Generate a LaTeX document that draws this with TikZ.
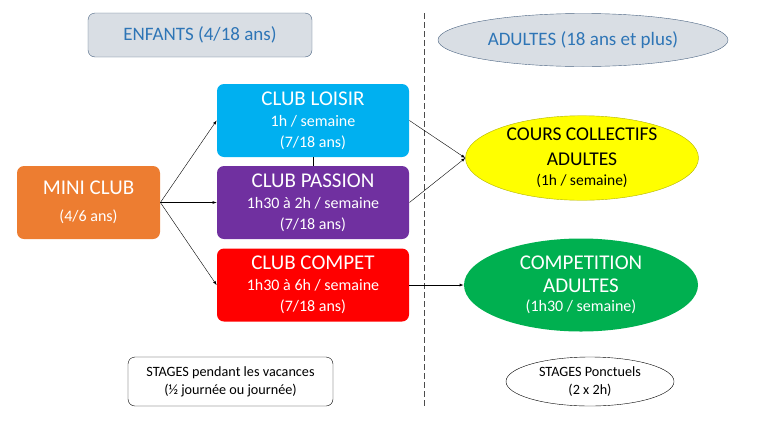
\documentclass[tikz,border=0pt]{standalone}
\usepackage{fontspec}
\setmainfont{Carlito}
\usepackage{tikz}
\usetikzlibrary{shapes.geometric}
\definecolor{headfill}{RGB}{217, 222, 228}
\definecolor{headline}{RGB}{75, 100, 130}
\definecolor{headtext}{RGB}{46, 117, 182}
\definecolor{mandarine}{RGB}{237, 125, 49}
\definecolor{loisir}{RGB}{0, 176, 240}
\definecolor{passion}{RGB}{112, 48, 160}
\definecolor{compet}{RGB}{255, 0, 0}
\definecolor{jaune}{RGB}{255, 255, 0}
\definecolor{vert}{RGB}{0, 176, 80}

\newcommand{\headsize}{\fontsize{19}{22}\selectfont}
\newcommand{\clubsize}{\fontsize{21}{21}\selectfont}
\newcommand{\subsize}{\fontsize{16}{21}\selectfont}
\newcommand{\notesize}{\fontsize{14.2}{18}\selectfont}

\begin{document}
\begin{tikzpicture}[x=1pt, y=-1pt, thick,
    clubbox/.style={rounded corners=7pt, minimum width=192pt, minimum height=73pt,
      align=center, text=white, inner sep=0pt, font=\subsize},
    oval/.style={ellipse, align=center, inner sep=0pt},
    >=latex]
  \useasboundingbox (0, 0) rectangle (757, 426);

  \node[rounded corners=7pt, fill=headfill, draw=headline, thin, minimum width=224pt,
    minimum height=44pt, text=headtext, font=\headsize] (enfants) at (200, 35) {ENFANTS (4/18 ans)};
  \node[oval, fill=headfill, draw=headline, thin, minimum width=290pt, minimum height=53pt,
    text=headtext, font=\headsize] (adultes) at (583, 40) {ADULTES (18 ans et plus)};

  \draw[dashed, dash pattern=on 6pt off 3pt, thin, color=black!70] (424, 13) -- (424, 406);

  \node[clubbox, fill=mandarine, minimum width=143pt] (mini) at (88.5, 202.5)
    {\clubsize MINI CLUB\\[6pt](4/6 ans)};
  \node[clubbox, fill=loisir] (loisir) at (313, 120.5)
    {\clubsize CLUB LOISIR\\1h / semaine\\(7/18 ans)};
  \node[clubbox, fill=passion] (passion) at (313, 202.5)
    {\clubsize CLUB PASSION\\1h30 à 2h / semaine\\(7/18 ans)};
  \node[clubbox, fill=compet] (compet) at (313, 285)
    {\clubsize CLUB COMPET\\1h30 à 6h / semaine\\(7/18 ans)};

  \node[oval, fill=jaune, draw=black!30!jaune, thin, minimum width=233pt, minimum height=81pt,
    font=\fontsize{15.5}{20}\selectfont] (collectif) at (582, 158)
    {\fontsize{19.5}{20}\selectfont COURS COLLECTIFS\\[5pt]\fontsize{19.5}{20}\selectfont ADULTES\\(1h / semaine)};
  \node[oval, fill=vert, minimum width=234pt, minimum height=93pt, text=white,
    font=\fontsize{16}{19}\selectfont] (competition) at (581, 285)
    {\clubsize COMPETITION\\[4pt]\clubsize ADULTES\\(1h30 / semaine)};

  \node[rounded corners=7pt, draw=black, thin, minimum width=205pt, minimum height=49pt,
    align=center, font=\notesize] (stages) at (230.5, 381.5)
    {STAGES pendant les vacances\\(½ journée ou journée)};
  \node[oval, draw=black, thin, minimum width=168pt, minimum height=49pt, font=\notesize]
    (ponctuels) at (590, 381.5)
    {STAGES Ponctuels\\(2 x 2h)};

  \draw[->, thin] (mini.east) -- (loisir.west);
  \draw[->, thin] (mini.east) -- (passion.west);
  \draw[->, thin] (mini.east) -- (compet.west);
  \draw[thin] (loisir.south) -- (passion.north);
  \draw[->, thin] (loisir.east) -- (collectif.west);
  \draw[->, thin] (passion.east) -- (collectif.west);
  \draw[->, thin] (compet.east) -- (competition.west);

\end{tikzpicture}
\end{document}
